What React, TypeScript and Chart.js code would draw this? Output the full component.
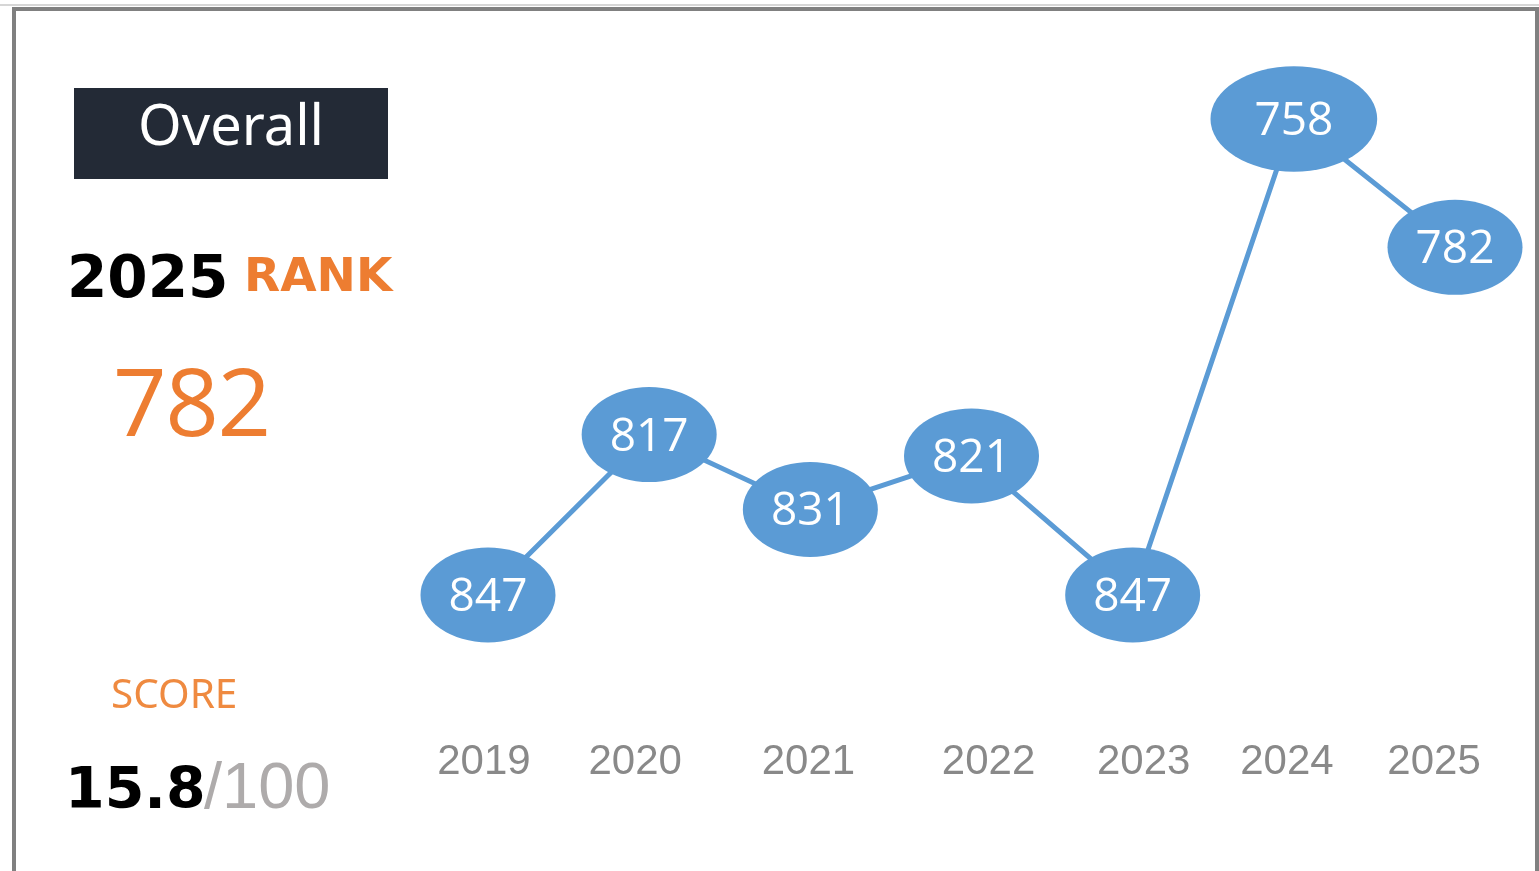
import React, { useEffect, useRef } from "react";
import { Chart, registerables } from "chart.js";

Chart.register(...registerables);

const years = ["2019", "2020", "2021", "2022", "2023", "2024", "2025"];
const ranks = [847, 817, 831, 821, 847, 758, 782];
const yearTickPositions = [-0.025, 0.913, 1.988, 3.106, 4.068, 4.957, 5.87];

const rankYear = "2025";
const rankValue = "782";
const scoreValue = "15.8";
const scoreMax = "/100";

// style: relative size of each marker ellipse
const markerScale = [1, 1, 1, 1, 1, 1.235, 1];

const ellipsePlugin = {
  id: "ellipseLabels",
  afterDatasetsDraw(chart: any) {
    const ctx = chart.ctx;
    const meta = chart.getDatasetMeta(0);
    const data = chart.data.datasets[0].data;
    ctx.save();
    meta.data.forEach((el: any, i: number) => {
      const x = el.x;
      const y = el.y;
      const s = markerScale[i] || 1;
      ctx.beginPath();
      ctx.ellipse(x, y, 67.5 * s, 47.5 * (s > 1 ? 1.11 : 1), 0, 0, Math.PI * 2);
      ctx.fillStyle = "#5b9bd5";
      ctx.fill();
      ctx.fillStyle = "#ffffff";
      ctx.font = '46px "Open Sans"';
      ctx.textAlign = "center";
      ctx.textBaseline = "alphabetic";
      ctx.fillText(String(data[i].y), x, y + 16);
    });
    ctx.restore();
  },
};

function RankChart() {
  const ref = useRef<HTMLCanvasElement | null>(null);
  useEffect(() => {
    if (!ref.current) return;
    const chart = new Chart(ref.current, {
      type: "line",
      data: {
        datasets: [
          {
            data: ranks.map((r, i) => ({ x: i, y: r })),
            borderColor: "#5b9bd5",
            borderWidth: 5,
            pointRadius: 0,
            tension: 0,
            clip: false as any,
          },
        ],
      },
      options: {
        animation: false,
        responsive: false,
        layout: { padding: { left: 407.4, right: 3.4, top: 22.7, bottom: 65 } },
        plugins: { legend: { display: false }, tooltip: { enabled: false } },
        scales: {
          x: {
            type: "linear",
            min: -0.5,
            max: 6.5,
            afterBuildTicks: (axis: any) => {
              axis.ticks = yearTickPositions.map((v) => ({ value: v }));
            },
            ticks: {
              callback: (_v: any, i: number) => years[i],
              font: { family: "Liberation Sans", size: 42 },
              color: "#898989",
              padding: 18.8,
              maxRotation: 0,
              autoSkip: false,
            },
            grid: { display: false, drawTicks: false },
            border: { display: false },
          },
          y: {
            type: "linear",
            reverse: true,
            min: 740,
            max: 870,
            display: false,
          },
        },
      },
      plugins: [ellipsePlugin],
    } as any);
    return () => chart.destroy();
  }, []);
  return (
    <canvas
      ref={ref}
      width={1539}
      height={871}
      style={{ position: "absolute", left: 0, top: 0 }}
    />
  );
}

export default function App() {
  const abs = (s: React.CSSProperties): React.CSSProperties => ({
    position: "absolute",
    whiteSpace: "nowrap",
    lineHeight: 1,
    ...s,
  });
  return (
    <div
      style={{
        position: "fixed",
        left: 0,
        top: 0,
        width: 1539,
        height: 871,
        background: "#ffffff",
        overflow: "hidden",
      }}
    >
      <RankChart />
      <div style={{ position: "absolute", left: 0, top: 4, width: 1539, height: 2, background: "#d6d6d6" }} />
      <div
        style={{
          position: "absolute",
          left: 12,
          top: 7,
          width: 1527,
          height: 900,
          boxSizing: "border-box",
          borderTop: "4px solid #808080",
          borderLeft: "4px solid #808080",
          borderRight: "4px solid #808080",
        }}
      />
      <div
        style={{
          position: "absolute",
          left: 74,
          top: 88,
          width: 314,
          height: 91,
          background: "#232a36",
        }}
      >
        <div
          style={abs({
            left: 0,
            width: 314,
            textAlign: "center",
            top: 7.3,
            fontFamily: '"Noto Sans"',
            fontSize: 56,
            color: "#ffffff",
            letterSpacing: 0,
          })}
        >
          Overall
        </div>
      </div>
      <div style={abs({ left: 67, top: 248, fontFamily: '"DejaVu Sans"', fontWeight: 700, fontSize: 58, color: "#000000" })}>
        {rankYear}
      </div>
      <div style={abs({ left: 244, top: 251, fontFamily: '"DejaVu Sans"', fontWeight: 700, fontSize: 47, color: "#ed7d31" })}>
        RANK
      </div>
      <div style={abs({ left: 113, top: 352.5, fontFamily: '"Open Sans"', fontSize: 94, color: "#ed7d31", letterSpacing: -1.5 })}>
        {rankValue}
      </div>
      <div style={abs({ left: 111, top: 672.5, fontFamily: '"Noto Sans"', fontSize: 40.5, color: "#ef8a40" })}>
        SCORE
      </div>
      <div style={abs({ left: 65, top: 759.8, fontFamily: '"DejaVu Sans"', fontWeight: 700, fontSize: 57, color: "#000000" })}>
        {scoreValue}
      </div>
      <div style={abs({ left: 204, top: 752.5, fontFamily: '"Liberation Sans"', fontSize: 65, color: "#aeabab" })}>
        {scoreMax}
      </div>
    </div>
  );
}
